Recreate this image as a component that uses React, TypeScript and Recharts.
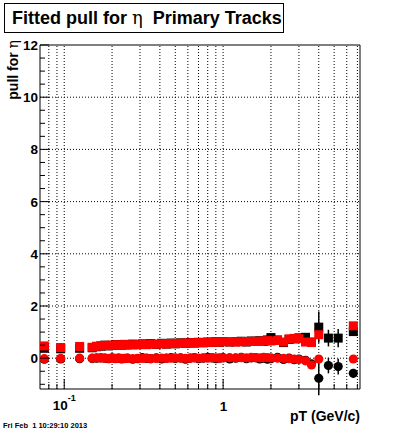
import React from 'react';
import { ScatterChart, Scatter, XAxis, YAxis, ReferenceLine, ErrorBar } from 'recharts';

// pT bin centres (GeV/c)
const ptBins = [
  0.075, 0.095, 0.125, 0.15, 0.16, 0.17, 0.18, 0.19, 0.2, 0.21, 0.22, 0.23, 0.24, 0.25,
  0.27, 0.29, 0.31, 0.33, 0.35, 0.38, 0.41, 0.44, 0.47, 0.5, 0.54, 0.58, 0.62, 0.66,
  0.7, 0.75, 0.8, 0.85, 0.9, 0.95, 1.0, 1.1, 1.2, 1.3, 1.4, 1.5, 1.6, 1.7, 1.8, 1.9,
  2.0, 2.2, 2.4, 2.6, 2.8, 3.0, 3.3, 3.6, 4.0, 4.6, 5.3, 6.6,
];

// fitted sigma of the pull (squares)
const sigmaBlack = [
  0.38, 0.36, 0.38, 0.4, 0.44, 0.46, 0.5, 0.47, 0.49, 0.52, 0.5, 0.51, 0.53, 0.51,
  0.54, 0.52, 0.55, 0.52, 0.56, 0.53, 0.57, 0.54, 0.58, 0.55, 0.59, 0.57, 0.6, 0.58,
  0.61, 0.59, 0.62, 0.6, 0.63, 0.61, 0.64, 0.62, 0.63, 0.65, 0.62, 0.66, 0.64, 0.67,
  0.64, 0.7, 0.79, 0.7, 0.6, 0.72, 0.74, 0.78, 0.8, 0.62, 1.19, 0.77, 0.77, 1.02,
];
const sigmaBlackErr = [
  0.03, 0.03, 0.03, 0.03, 0.02, 0.02, 0.02, 0.02, 0.02, 0.02, 0.02, 0.02, 0.02, 0.02,
  0.02, 0.02, 0.02, 0.02, 0.02, 0.02, 0.02, 0.02, 0.02, 0.02, 0.02, 0.02, 0.02, 0.02,
  0.02, 0.02, 0.02, 0.02, 0.02, 0.02, 0.03, 0.03, 0.03, 0.03, 0.03, 0.03, 0.04, 0.04,
  0.04, 0.04, 0.05, 0.05, 0.06, 0.06, 0.07, 0.08, 0.09, 0.1, 0.6, 0.32, 0.35, 0.15,
];
const sigmaRed = [
  0.47, 0.41, 0.45, 0.42, 0.46, 0.48, 0.49, 0.49, 0.5, 0.5, 0.51, 0.5, 0.51, 0.52,
  0.51, 0.52, 0.53, 0.53, 0.54, 0.54, 0.55, 0.55, 0.56, 0.57, 0.57, 0.58, 0.58, 0.59,
  0.6, 0.6, 0.61, 0.61, 0.62, 0.62, 0.63, 0.63, 0.62, 0.63, 0.64, 0.64, 0.65, 0.64,
  0.66, 0.67, 0.66, 0.68, 0.62, 0.74, 0.76, 0.75, 0.62, 0.6, 0.9, null, null, 1.24,
];

// fitted mean of the pull (circles)
const meanBlack = [
  -0.04, -0.03, -0.02, -0.01, 0.0, 0.01, 0.0, -0.02, 0.01, -0.01, 0.0, -0.03, -0.01, 0.0,
  -0.04, -0.02, 0.02, -0.01, -0.02, 0.01, -0.03, 0.0, 0.02, -0.01, 0.01, -0.04, 0.0, 0.02,
  -0.02, 0.0, 0.03, 0.01, -0.02, 0.0, 0.02, -0.03, 0.0, 0.03, -0.02, 0.01, 0.02, -0.03,
  0.0, -0.04, -0.02, 0.03, -0.05, 0.0, -0.06, -0.03, -0.08, -0.22, -0.77, -0.28, -0.32, -0.58,
];
const meanBlackErr = [
  0.03, 0.03, 0.03, 0.03, 0.02, 0.02, 0.02, 0.02, 0.02, 0.02, 0.02, 0.02, 0.02, 0.02,
  0.02, 0.02, 0.02, 0.02, 0.02, 0.02, 0.02, 0.02, 0.02, 0.02, 0.02, 0.02, 0.02, 0.02,
  0.02, 0.02, 0.02, 0.02, 0.02, 0.02, 0.03, 0.03, 0.03, 0.03, 0.03, 0.03, 0.04, 0.04,
  0.04, 0.04, 0.05, 0.05, 0.06, 0.06, 0.07, 0.08, 0.09, 0.1, 0.65, 0.3, 0.3, 0.17,
];
const meanRed = [
  -0.02, -0.01, 0.0, 0.0, 0.01, 0.01, 0.0, -0.01, 0.0, -0.02, 0.0, -0.01, -0.02, -0.01,
  -0.02, -0.01, -0.01, 0.0, -0.02, -0.01, 0.0, -0.01, 0.0, 0.01, 0.0, -0.01, 0.0, 0.01,
  0.0, 0.01, 0.0, 0.02, 0.01, 0.0, 0.01, 0.02, 0.01, 0.02, 0.01, 0.03, 0.02, 0.01,
  0.03, 0.02, 0.01, 0.0, -0.01, -0.02, -0.03, -0.05, -0.1, -0.26, -0.03, null, null, -0.03,
];

const xTicks = [0.08, 0.09, 0.1, 0.2, 0.3, 0.4, 0.5, 0.6, 0.7, 0.8, 0.9, 1, 2, 3, 4, 5, 6, 7];
const yTicks = [-1, -0.5, 0, 0.5, 1, 1.5, 2, 2.5, 3, 3.5, 4, 4.5, 5, 5.5, 6, 6.5, 7, 7.5, 8, 8.5, 9, 9.5, 10, 10.5, 11, 11.5, 12];
const yGrid = [0, 2, 4, 6, 8, 10];
const xDomain = [0.0704, 7.27];
const yDomain = [-1.18, 12];

const FONT = '"Liberation Sans", Arial, Helvetica, sans-serif';

const build = (vals: (number | null)[], errs?: number[]) =>
  ptBins
    .map((pt, i) => ({ pt, v: vals[i], err: errs ? errs[i] : 0 }))
    .filter(d => d.v !== null);

const blackSigmaData = build(sigmaBlack, sigmaBlackErr);
const blackMeanData = build(meanBlack, meanBlackErr);
const redSigmaData = build(sigmaRed);
const redMeanData = build(meanRed);

const squareShape = (color: string) => (p: any) => (
  <rect x={p.cx - 4.5} y={p.cy - 4.5} width={9} height={9} fill={color} />
);
const circleShape = (color: string) => (p: any) => (
  <circle cx={p.cx} cy={p.cy} r={4.6} fill={color} />
);

const XTick = (props: any) => {
  const { x, y, payload } = props;
  const v = payload.value;
  const major = v === 0.1 || v === 1;
  return (
    <g>
      <line x1={x} x2={x} y1={y} y2={y - (major ? 10 : 5)} stroke="#000" />
      {v === 0.1 && (
        <text x={x - 11.5} y={y + 21} fontFamily={FONT} fontWeight="bold" fontSize={13.5} fill="#000">
          10<tspan dy={-9} fontSize={9}>-1</tspan>
        </text>
      )}
      {v === 1 && (
        <text x={x + 0.5} y={y + 21.5} textAnchor="middle" fontFamily={FONT} fontWeight="bold" fontSize={13.5} fill="#000">
          1
        </text>
      )}
    </g>
  );
};

const YTick = (props: any) => {
  const { x, y, payload } = props;
  const v = payload.value;
  const major = v % 2 === 0;
  return (
    <g>
      <line x1={x} x2={x + (major ? 9 : 5)} y1={y} y2={y} stroke="#000" />
      {major && v >= 0 && (
        <text x={x - 2} y={y + 5} textAnchor="end" fontFamily={FONT} fontWeight="bold" fontSize={13.5} fill="#000">
          {v}
        </text>
      )}
    </g>
  );
};

const App: React.FC = () => {
  return (
    <div style={{ position: 'absolute', left: 0, top: 0, width: 400, height: 433, background: '#fff' }}>
      <ScatterChart width={400} height={433} margin={{ top: 45, right: 40, left: 0, bottom: 0 }}>
        <XAxis
          type="number"
          dataKey="pt"
          scale="log"
          domain={xDomain}
          allowDataOverflow
          ticks={xTicks}
          interval={0}
          tick={<XTick />}
          tickLine={false}
          tickSize={0}
          tickMargin={0}
          axisLine={{ stroke: '#000' }}
          height={44}
        />
        <YAxis
          type="number"
          dataKey="v"
          domain={yDomain}
          allowDataOverflow
          ticks={yTicks}
          interval={0}
          tick={<YTick />}
          tickLine={false}
          tickSize={0}
          tickMargin={0}
          axisLine={{ stroke: '#000' }}
          width={40}
        />
        {xTicks.map(t => (
          <ReferenceLine key={'gx' + t} x={t} stroke="#000" strokeDasharray="1 2" />
        ))}
        {yGrid.map(t => (
          <ReferenceLine key={'gy' + t} y={t} stroke="#000" strokeDasharray="1 2" />
        ))}
        <ReferenceLine y={yDomain[1]} stroke="#000" />
        <ReferenceLine x={xDomain[1]} stroke="#000" />
        <Scatter data={blackMeanData} shape={circleShape('#000')} isAnimationActive={false}>
          <ErrorBar dataKey="err" direction="y" width={0} stroke="#000" />
        </Scatter>
        <Scatter data={blackSigmaData} shape={squareShape('#000')} isAnimationActive={false}>
          <ErrorBar dataKey="err" direction="y" width={0} stroke="#000" />
        </Scatter>
        <Scatter data={redMeanData} shape={circleShape('#ff0000')} isAnimationActive={false} />
        <Scatter data={redSigmaData} shape={squareShape('#ff0000')} isAnimationActive={false} />
      </ScatterChart>
      <svg width={400} height={433} style={{ position: 'absolute', left: 0, top: 0, pointerEvents: 'none' }}>
        <rect x={4.5} y={3.5} width={279} height={29} fill="#fff" stroke="#000" />
        <text x={12} y={24} fontFamily={FONT} fontWeight="bold" fontSize={18} fill="#000" style={{ whiteSpace: 'pre' }}>
          {'Fitted pull for '}
          <tspan fontWeight="normal" fontFamily='"DejaVu Serif", serif'>η</tspan>
          {'  Primary Tracks'}
        </text>
        <text
          transform="translate(18,40) rotate(-90)"
          textAnchor="end"
          fontFamily={FONT}
          fontWeight="bold"
          fontSize={14}
          fill="#000"
          style={{ whiteSpace: 'pre' }}
        >
          {'pull for '}
          <tspan fontWeight="normal" fontFamily='"DejaVu Serif", serif'>η</tspan>
        </text>
        <text x={360} y={421} textAnchor="end" fontFamily={FONT} fontWeight="bold" fontSize={14} fill="#000">
          pT (GeV/c)
        </text>
        <text x={3} y={428} fontFamily={FONT} fontWeight="bold" fontSize={7.5} fill="#000" style={{ whiteSpace: 'pre' }}>
          Fri Feb  1 10:29:10 2013
        </text>
      </svg>
    </div>
  );
};

export default App;
